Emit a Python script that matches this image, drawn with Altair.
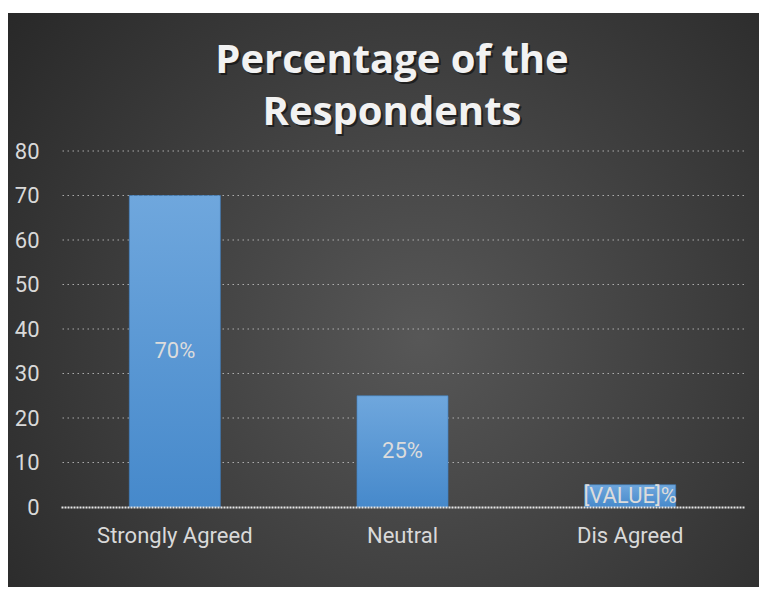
import altair as alt
import pandas as pd

categories = ["Strongly Agreed", "Neutral", "Dis Agreed"]
values = [70, 25, 5]
labels = ["70%", "25%", "[VALUE]%"]
grid_values = [0, 10, 20, 30, 40, 50, 60, 70, 80]
title_lines = ["Percentage of the", "Respondents"]

W, H = 683, 356
PL, PT, PR, PB = 53, 143, 15, 80

df = pd.DataFrame({"cat": categories, "value": values, "label": labels})
gdf = pd.DataFrame({"g": grid_values})

x_scale = alt.Scale(domain=categories, paddingInner=0.6, paddingOuter=0.3)
y_scale = alt.Scale(domain=[0, 80], nice=False)

x_axis = alt.Axis(labelAngle=0, labelFont="Roboto", labelFontSize=22,
                  labelColor="#d9d9d9", labelPadding=18, ticks=False, tickSize=0,
                  domain=True, domainColor="#e8e8e8", domainWidth=2,
                  domainDash=[2, 1], grid=False, zindex=2, title=None)
y_axis = alt.Axis(values=grid_values, labelFont="Roboto", labelFontSize=22,
                  labelColor="#d9d9d9", labelPadding=22, ticks=False, tickSize=0,
                  domain=False, grid=False, zindex=2, title=None)

X = alt.X("cat:N", scale=x_scale, sort=categories, axis=x_axis)
Y = alt.Y("value:Q", scale=y_scale, axis=y_axis)

bg = alt.Chart(pd.DataFrame({"a": [0]})).mark_rect(
    fill=alt.Gradient(
        gradient="radial",
        x1=0.55, y1=0.55, r1=0,
        x2=0.55, y2=0.55, r2=0.75,
        stops=[alt.GradientStop(offset=0, color="#575757"),
               alt.GradientStop(offset=1, color="#252525")],
    )
).encode(
    x=alt.value(-PL), x2=alt.value(W + PR),
    y=alt.value(13 - 8 - PT), y2=alt.value(H + PB),
)

grid = alt.Chart(gdf).transform_filter("datum.g > 0").mark_rule(
    color="#c8c8c8", strokeDash=[1.5, 3.5], strokeWidth=1, opacity=0.8
).encode(y=alt.Y("g:Q", scale=y_scale, axis=y_axis))

shadow = alt.Chart(df).mark_bar(
    color="#000000", opacity=0.22, width=alt.RelativeBandSize(0.46)
).encode(x=X, y=Y)

bars = alt.Chart(df).mark_bar(
    fill=alt.Gradient(
        gradient="linear", x1=0, y1=0, x2=0, y2=1,
        stops=[alt.GradientStop(offset=0, color="#6fa7dd"),
               alt.GradientStop(offset=1, color="#4689cb")],
    ),
    stroke="#3f7fc0", strokeWidth=0.6,
).encode(x=X, y=Y)

text = alt.Chart(df).transform_calculate(mid="datum.value / 2").mark_text(
    font="Roboto", fontSize=22, color="#dcdcdc", baseline="middle"
).encode(
    x=X,
    y=alt.Y("mid:Q", scale=y_scale, axis=y_axis),
    text="label:N",
)

def title_layer(line, ypos, dx, dy, color, opacity):
    return alt.Chart(pd.DataFrame({"t": [title_lines[line]]})).mark_text(
        font="Open Sans", fontSize=40, fontWeight="bold", color=color,
        opacity=opacity, align="center", baseline="alphabetic",
    ).encode(x=alt.value(331 + dx), y=alt.value(ypos + dy), text="t:N")

chart = alt.layer(
    bg, grid, shadow, bars, text,
    title_layer(0, -78, 2, 2, "#000000", 0.5),
    title_layer(1, -26, 2, 2, "#000000", 0.5),
    title_layer(0, -78, 0, 0, "#f2f2f2", 1.0),
    title_layer(1, -26, 0, 0, "#f2f2f2", 1.0),
).properties(
    width=W, height=H,
    padding={"left": PL, "top": PT, "right": PR, "bottom": PB},
    autosize=alt.AutoSizeParams(type="none"),
    background="white",
).configure_view(stroke=None)

chart.save("out.html", embed_options={"renderer": "svg", "actions": False})
